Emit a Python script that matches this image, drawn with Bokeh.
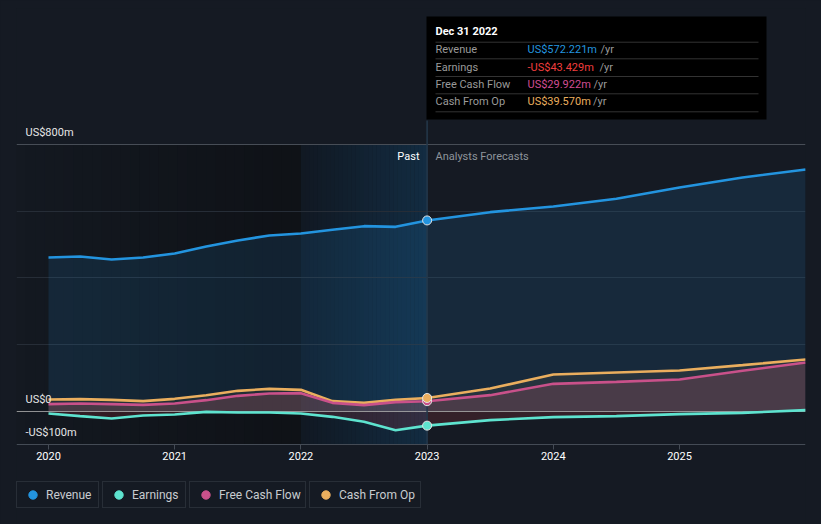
import numpy as np
from bokeh.plotting import figure
from bokeh.models import Range1d, FixedTicker, Legend, LegendItem, ColumnDataSource
from bokeh.core.properties import value
from bokeh.embed import file_html
from bokeh.resources import INLINE

# ---------------- data (US$ m) ----------------
past_years = [2020.0, 2020.25, 2020.5, 2020.75, 2021.0, 2021.25, 2021.5, 2021.75,
              2022.0, 2022.25, 2022.5, 2022.75, 2023.0]
revenue_past = [461, 464, 455, 461, 473, 494, 512, 527, 533, 544, 555, 553, 572.221]
earnings_past = [-7, -15, -22, -13, -10, -2, -4, -4, -7, -17, -32, -57, -43.429]
fcf_past = [21, 23, 21, 19, 23, 33, 46, 53, 54, 25, 18, 27, 29.922]
cfo_past = [35, 36, 34, 30, 37, 48, 61, 67, 64, 30, 25, 34, 39.570]

fc_years = [2023.0, 2023.5, 2024.0, 2024.5, 2025.0, 2025.5, 2026.0]
revenue_fc = [572.221, 597, 614, 637, 671, 701, 725]
earnings_fc = [-43.429, -27, -18, -15, -9, -5, 3]
fcf_fc = [29.922, 48, 82, 88, 95, 121, 146]
cfo_fc = [39.570, 68, 110, 116, 122, 138, 155]

y_tick_values = [800, 0, -100]
y_tick_labels = ["US$800m", "US$0", "-US$100m"]
x_ticks = [2020, 2021, 2022, 2023, 2024, 2025]

series_names = ["Revenue", "Earnings", "Free Cash Flow", "Cash From Op"]
tooltip_date = "Dec 31 2022"
tooltip_values = ["US$572.221m", "-US$43.429m", "US$29.922m", "US$39.570m"]

# ---------------- styles ----------------
BG = "#151a23"
REV = "#2394df"
EARN = "#5ee3cf"
FCF = "#c9518a"
CFO = "#eaae5e"
FONT = value("Roboto")

# pixel geometry helpers (frame: x 16..805, y 8..524 on page)
PXY = 126.2
X0 = 2020 - 32 / PXY
X1 = X0 + 789 / PXY
Y1 = 800 + 136 * 3
Y0 = -100 - 80 * 3


def xd(px):
    return X0 + (px - 16) / PXY


def yd(py):
    return 800 - (py - 144) * 3


years = past_years + fc_years[1:]
revenue = revenue_past + revenue_fc[1:]
earnings = earnings_past + earnings_fc[1:]
fcf = fcf_past + fcf_fc[1:]
cfo = cfo_past + cfo_fc[1:]

p = figure(width=821, height=524, x_range=Range1d(X0, X1), y_range=Range1d(Y0, Y1),
           output_backend="svg", toolbar_location=None, y_axis_location=None,
           min_border_left=16, min_border_right=16, min_border_top=8, min_border_bottom=0,
           background_fill_color=BG, border_fill_color=BG, outline_line_color=None)
p.xgrid.visible = False
p.ygrid.visible = False

# background shading: darker past region and highlighted last year
n = 30
e = np.linspace(X0, 2022, n + 1)
c0 = np.array([0x14, 0x19, 0x21]); c1 = np.array([0x0f, 0x12, 0x17])
cols = ["#%02x%02x%02x" % tuple((c0 + (c1 - c0) * t).astype(int)) for t in np.linspace(0, 1, n)]
p.quad(left=e[:-1], right=e[1:] + 0.002, bottom=-100, top=800, color=cols, line_color=None)

e = np.linspace(2022, 2023, n + 1)
c0 = np.array([0x11, 0x19, 0x23]); c1 = np.array([0x13, 0x2c, 0x42])
cols = ["#%02x%02x%02x" % tuple((c0 + (c1 - c0) * t).astype(int)) for t in np.linspace(0, 1, n)]
p.quad(left=e[:-1], right=e[1:] + 0.002, bottom=-100, top=800, color=cols, line_color=None)

# grid lines
p.hspan(y=[200, 400, 600], line_color="#262d37", line_width=1)
p.hspan(y=[800], line_color="#474d56", line_width=1)

# area fills
p.varea(x=years, y1=0, y2=revenue, fill_color=REV, fill_alpha=0.13)
p.varea(x=years, y1=0, y2=cfo, fill_color=CFO, fill_alpha=0.08)
p.varea(x=years, y1=0, y2=fcf, fill_color="#d0607a", fill_alpha=0.2)
p.varea(x=years, y1=0, y2=earnings, fill_color="#e8434f", fill_alpha=0.15)

# zero line
p.hspan(y=[0], line_color="#b0b0b0", line_width=1, line_alpha=0.8)

# vertical "now" line
p.segment(x0=[2023], y0=[-100], x1=[2023], y1=[yd(120)], line_color="#24384b", line_width=1.5)

# series lines
lw = 2.6
p.line(years, cfo, line_color=CFO, line_width=lw)
p.line(years, fcf, line_color=FCF, line_width=lw)
p.line(years, earnings, line_color=EARN, line_width=lw)
p.line(years, revenue, line_color=REV, line_width=lw)

# markers at the hovered date
p.scatter(x=[2023] * 4, y=[fcf_past[-1], cfo_past[-1], earnings_past[-1], revenue_past[-1]],
          fill_color=[FCF, CFO, EARN, REV], line_color="#e6e6e6", line_width=1, size=9)

# y labels (inside plot, above grid lines)
p.text(x=[X0] * 3, y=y_tick_values, text=y_tick_labels, x_offset=9, y_offset=-12,
       text_font=FONT, text_font_size="11px", text_color="#e6e6e6",
       text_baseline="middle", text_align="left")

# Past / Analysts Forecasts
p.text(x=[xd(419)], y=[yd(156)], text=["Past"], text_font=FONT, text_font_size="11px",
       text_color="#ffffff", text_align="right", text_baseline="middle")
p.text(x=[xd(435)], y=[yd(156)], text=["Analysts Forecasts"], text_font=FONT,
       text_font_size="11px", text_color="#8e949b", text_align="left", text_baseline="middle")

# tooltip box
p.quad(left=[xd(426)], right=[xd(766)], top=[yd(16)], bottom=[yd(119)],
       fill_color="#000000", line_color=None)
sep_y = [yd(v) for v in (41.7, 58.3, 76, 93.3, 111.3)]
p.segment(x0=[xd(435)] * 5, x1=[xd(758)] * 5, y0=sep_y, y1=sep_y, line_color="#333333", line_width=1)
p.text(x=[xd(435)], y=[yd(31)], text=[tooltip_date], text_font=FONT, text_font_size="11px",
       text_color="#ffffff", text_font_style="bold", text_baseline="middle")
row_y = [yd(v) for v in (49.3, 66.7, 84, 101.3)]
p.text(x=[xd(435)] * 4, y=row_y, text=series_names, text_font=FONT, text_font_size="11px",
       text_color="#9a9a9a", text_baseline="middle")
vsrc = ColumnDataSource(dict(x=[xd(527)] * 4, y=row_y, t=tooltip_values,
                             c=[REV, "#f03e3e", "#d24d93", CFO]))
p.text(x="x", y="y", text="t", text_color="c", source=vsrc, text_font=FONT,
       text_font_size="11px", text_baseline="middle")
p.text(x=[xd(v) for v in (600, 599, 593, 592.5)], y=row_y, text=["/yr"] * 4, text_font=FONT,
       text_font_size="11px", text_color="#9a9a9a", text_baseline="middle")

# x axis drawn inside the frame at y = -100
ax = p.xaxis[0]
ax.fixed_location = -100
ax.ticker = FixedTicker(ticks=x_ticks)
ax.minor_tick_line_color = None
ax.major_tick_in = 0
ax.major_tick_out = 5
ax.axis_line_color = "#444b55"
ax.major_tick_line_color = "#444b55"
ax.major_label_text_color = "#ffffff"
ax.major_label_text_font = "Roboto"
ax.major_label_text_font_size = "11px"
ax.major_label_standoff = 2

# legends (one bordered box per series); legend renderers hold one off-screen point
colors = [REV, EARN, FCF, CFO]
lefts = [0, 86, 173, 293]
label_widths = [50, 51, 84, 79]
for name, col, lx, lwid in zip(series_names, colors, lefts, label_widths):
    r = p.scatter(x=[X0 - 10], y=[0], fill_color=col, line_color=col, size=8)
    lg = Legend(items=[LegendItem(label=name, renderers=[r])], location=(lx, 16),
                orientation="horizontal", padding=2, margin=0, spacing=0,
                glyph_width=27, glyph_height=21, label_standoff=0,
                label_width=lwid, label_height=21,
                label_text_font="Roboto", label_text_font_size="12px",
                label_text_color="#c8ccd0", border_line_color="#3b414b",
                border_line_width=1, background_fill_color=BG, background_fill_alpha=1)
    p.add_layout(lg, "center")

html = file_html(p, INLINE)
html = html.replace("<body>", '<body style="background-color:%s;">' % BG)
open("out.html", "w").write(html)
